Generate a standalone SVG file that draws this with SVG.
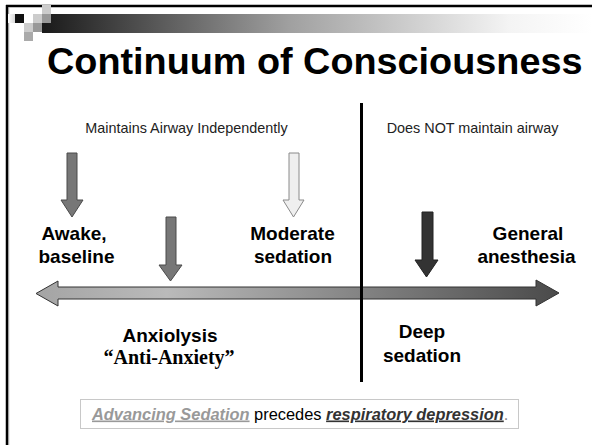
<svg xmlns="http://www.w3.org/2000/svg" width="592" height="445" viewBox="0 0 592 445">
<defs>
<linearGradient id="barGrad" x1="0" y1="0" x2="1" y2="0">
<stop offset="0" stop-color="#1a1a1a"/>
<stop offset="0.45" stop-color="#a0a0a0"/>
<stop offset="0.85" stop-color="#f4f4f4"/>
<stop offset="1" stop-color="#ffffff"/>
</linearGradient>
<linearGradient id="sqGrad" x1="0" y1="0" x2="1" y2="0">
<stop offset="0" stop-color="#ffffff"/>
<stop offset="1" stop-color="#d8d8d8"/>
</linearGradient>
<linearGradient id="mainGrad" gradientUnits="userSpaceOnUse" x1="36" y1="0" x2="559" y2="0">
<stop offset="0" stop-color="#a4a4a4"/>
<stop offset="0.25" stop-color="#bababa"/>
<stop offset="0.55" stop-color="#8e8e8e"/>
<stop offset="1" stop-color="#4a4a4a"/>
</linearGradient>
<style>
.lbl{font-family:"Liberation Sans",Arial,sans-serif;font-weight:bold;font-size:19px;fill:#000;text-anchor:middle}
.hdr{font-family:"Liberation Sans",Arial,sans-serif;font-size:14.4px;fill:#222;text-anchor:middle}
.arrMid{fill:#777;stroke:#4a4a4a;stroke-width:1}
.arrLight{fill:#efefef;stroke:#8a8a8a;stroke-width:1}
.arrDark{fill:#333;stroke:#222;stroke-width:1}
</style>
</defs>
<rect x="0" y="0" width="592" height="445" fill="#fff"/>
<g id="frame">
<line x1="7" y1="5" x2="7" y2="445" stroke="#000" stroke-width="2.5"/>
<line x1="8.7" y1="8" x2="8.7" y2="445" stroke="#999" stroke-width="1"/>
<line x1="6" y1="6" x2="592" y2="6" stroke="#000" stroke-width="2.5"/>
</g>
<g id="header-decoration">
<rect x="42" y="14" width="550" height="19" fill="url(#barGrad)"/>
<rect x="8" y="14" width="7" height="9" fill="url(#sqGrad)"/>
<rect x="15" y="14" width="9" height="9" fill="#111"/>
<rect x="33" y="14" width="9" height="9" fill="#ccc"/>
<rect x="42" y="14" width="9" height="9" fill="#999"/>
<rect x="42" y="5" width="9" height="9" fill="#ccc"/>
<rect x="24" y="23" width="9" height="9" fill="#ccc"/>
<rect x="33" y="23" width="9" height="9" fill="#999"/>
<rect x="24" y="32" width="9" height="9" fill="#aaa"/>
</g>
<g id="title">
<text x="47" y="74" font-family="Liberation Sans,Arial,sans-serif" font-weight="bold" font-size="37.8" fill="#000">Continuum of Consciousness</text>
</g>
<g id="header-left"><text class="hdr" x="186.5" y="133">Maintains Airway Independently</text></g>
<g id="header-right"><text class="hdr" x="472.5" y="133">Does NOT maintain airway</text></g>
<g id="connectors">
<polygon id="main-arrow" points="36,293.5 58,281 58,287 536,287 536,280 559,293 536,306 536,299 58,299 58,306" fill="url(#mainGrad)" stroke="#333" stroke-width="1"/>
<polygon id="arrow-awake" class="arrMid" points="67,153 77,153 77,200 83,200 72,217 61,200 67,200"/>
<polygon id="arrow-anxiolysis" class="arrMid" points="166,217 176,217 176,265 182,265 170.5,281 159,265 166,265"/>
<polygon id="arrow-moderate" class="arrLight" points="289,153 299,153 299,200 304,200 293.5,217 283,200 289,200"/>
<polygon id="arrow-deep" class="arrDark" points="422,212 433,212 433,260 438,260 426.5,277 415,260 422,260"/>
<line id="divider" x1="361.5" y1="103" x2="361.5" y2="382" stroke="#000" stroke-width="3"/>
</g>
<g id="node-awake"><text class="lbl" x="74" y="240">Awake,</text><text class="lbl" x="76.5" y="263">baseline</text></g>
<g id="node-moderate"><text class="lbl" x="292.5" y="240">Moderate</text><text class="lbl" x="293" y="263">sedation</text></g>
<g id="node-general"><text class="lbl" x="528" y="240">General</text><text class="lbl" x="526.5" y="263">anesthesia</text></g>
<g id="node-anxiolysis"><text class="lbl" x="170" y="342">Anxiolysis</text><text x="169" y="364" font-family="Liberation Serif,Times New Roman,serif" font-weight="bold" font-size="20" fill="#000" text-anchor="middle">“Anti-Anxiety”</text></g>
<g id="node-deep"><text class="lbl" x="422" y="338">Deep</text><text class="lbl" x="422" y="362">sedation</text></g>
<g id="note">
<rect x="80.5" y="399.5" width="438" height="29" fill="#fff" stroke="#c8c8c8" stroke-width="1"/>
<text x="92" y="419.5" font-family="Liberation Sans,Arial,sans-serif" font-size="16.4" fill="#000"><tspan font-weight="bold" font-style="italic" fill="#999" text-decoration="underline">Advancing Sedation</tspan> precedes <tspan font-weight="bold" font-style="italic" fill="#333" text-decoration="underline">respiratory depression</tspan><tspan fill="#888">.</tspan></text>
</g>
</svg>
